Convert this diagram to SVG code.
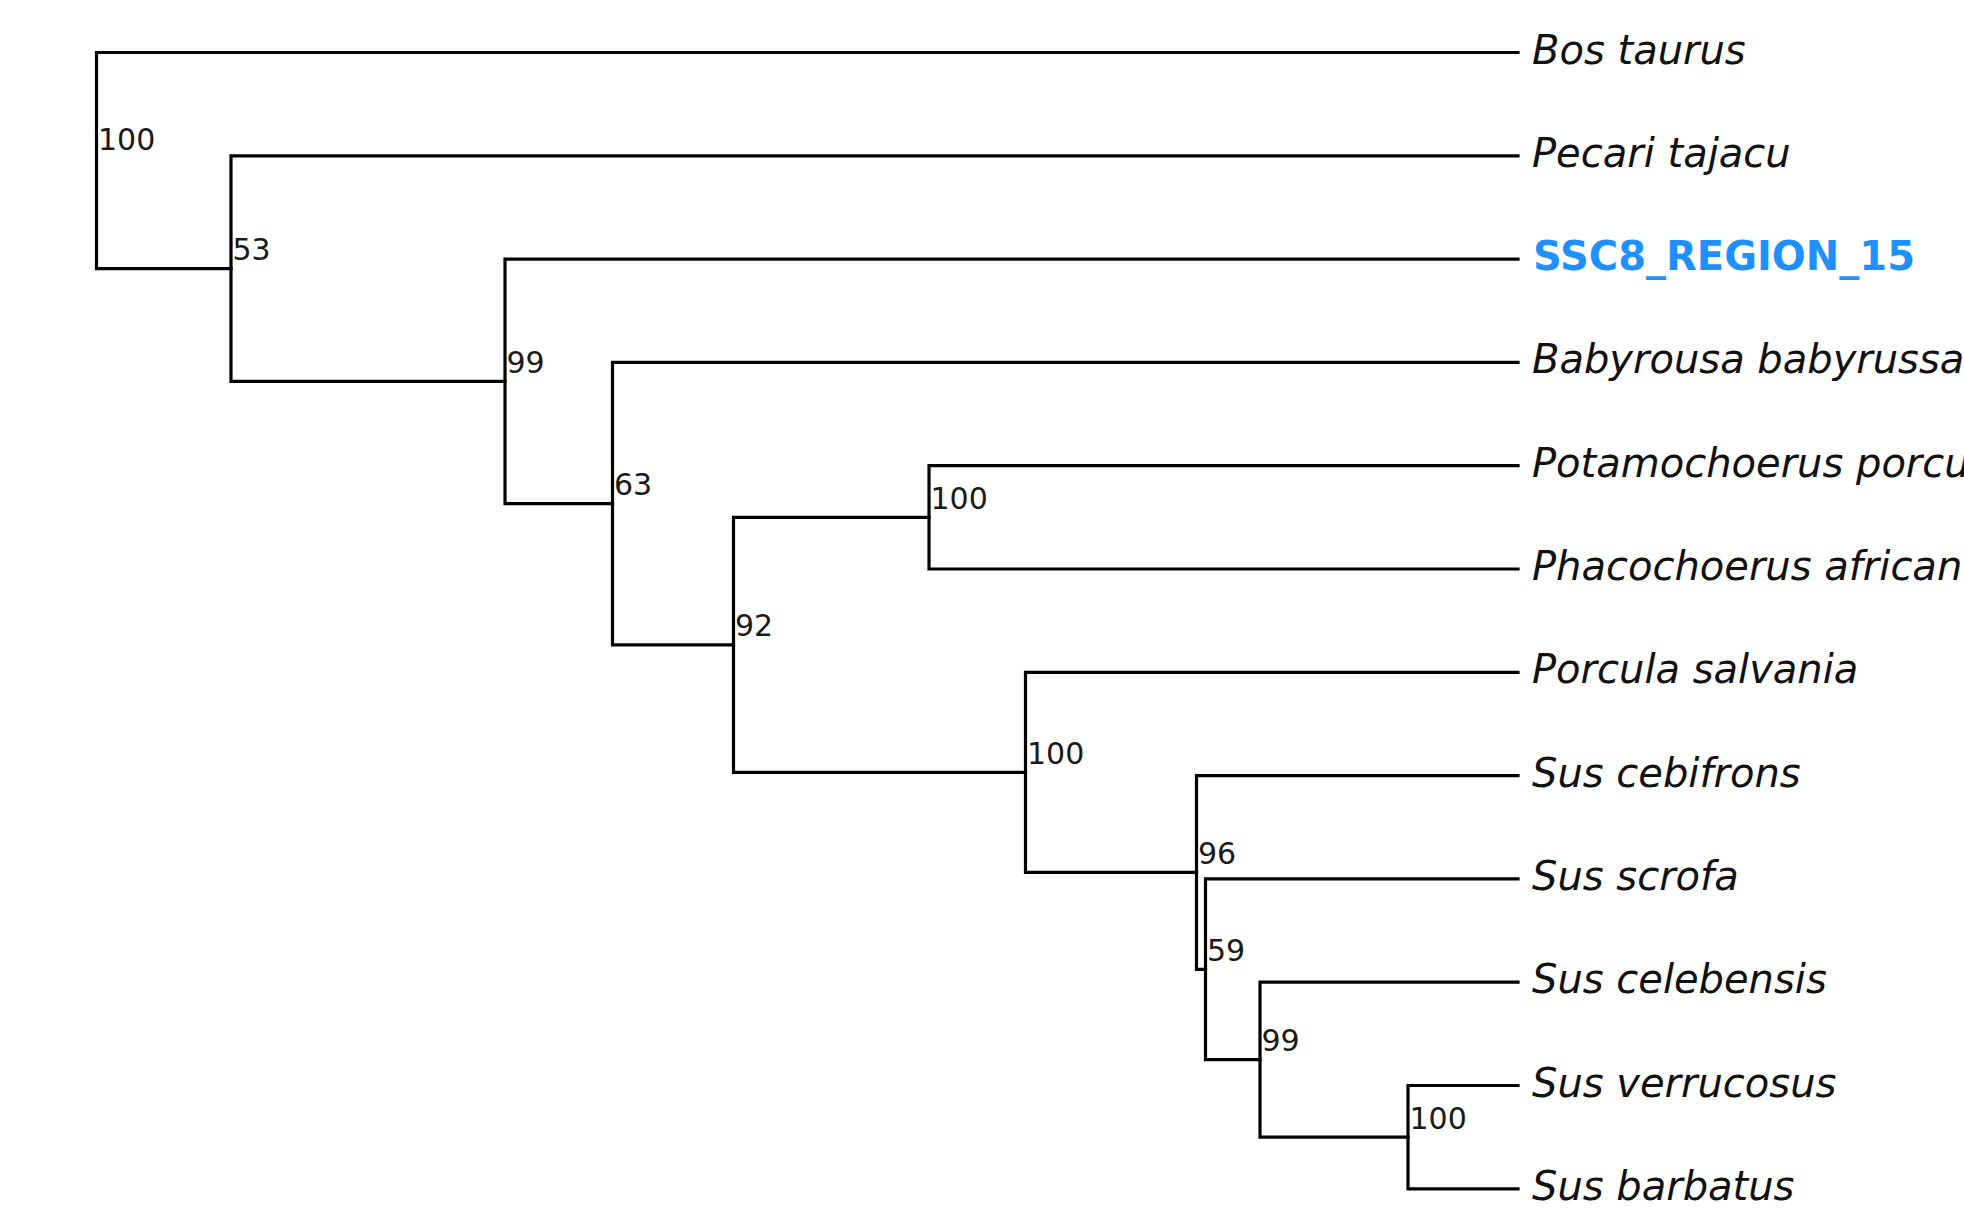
<svg xmlns="http://www.w3.org/2000/svg" width="1964" height="1223" viewBox="0 0 1964 1223">
<style>
.br{stroke:#000;stroke-width:3.2;fill:none;stroke-linecap:square}
.leaf{font-family:"DejaVu Sans","Liberation Sans",sans-serif;font-size:40px;font-style:italic;fill:#111}
.hl{font-family:"DejaVu Sans","Liberation Sans",sans-serif;font-size:40px;font-weight:bold;fill:#1E90FF}
.sup{font-family:"DejaVu Sans","Liberation Sans",sans-serif;font-size:30px;fill:#1a1a1a}
</style>
<rect x="0" y="0" width="1964" height="1223" fill="#fff"/>
<g id="connectors" class="br">
<path d="M96.5,52.5V268.6 M96.5,52.5H1518 M96.5,268.6H231"/>
<path d="M231,155.8V381.4 M231,155.8H1518 M231,381.4H505"/>
<path d="M505,259.1V503.65 M505,259.1H1518 M505,503.65H612.5"/>
<path d="M612.5,362.4V644.9 M612.5,362.4H1518 M612.5,644.9H733.5"/>
<path d="M733.5,517.35V772.4 M733.5,517.35H929 M733.5,772.4H1025.5"/>
<path d="M929,465.7V569 M929,465.7H1518 M929,569H1518"/>
<path d="M1025.5,672.3V872.45 M1025.5,672.3H1518 M1025.5,872.45H1196.5"/>
<path d="M1196.5,775.6V969.3 M1196.5,775.6H1518 M1196.5,969.3H1205.5"/>
<path d="M1205.5,878.9V1059.7 M1205.5,878.9H1518 M1205.5,1059.7H1260"/>
<path d="M1260,982.2V1137.15 M1260,982.2H1518 M1260,1137.15H1408"/>
<path d="M1408,1085.5V1188.8 M1408,1085.5H1518 M1408,1188.8H1518"/>
</g>
<g id="node-root"><text class="sup" x="98" y="150">100</text></g>
<g id="node-53"><text class="sup" x="232.5" y="259.5">53</text></g>
<g id="node-99a"><text class="sup" x="506.5" y="372.5">99</text></g>
<g id="node-63"><text class="sup" x="614" y="494.5">63</text></g>
<g id="node-92"><text class="sup" x="735" y="636">92</text></g>
<g id="node-100pp"><text class="sup" x="930.5" y="508.5">100</text></g>
<g id="node-100c"><text class="sup" x="1027" y="763.5">100</text></g>
<g id="node-96"><text class="sup" x="1198" y="863.5">96</text></g>
<g id="node-59"><text class="sup" x="1207" y="960.5">59</text></g>
<g id="node-99b"><text class="sup" x="1261.5" y="1050.5">99</text></g>
<g id="node-100vb"><text class="sup" x="1409.5" y="1128.5">100</text></g>
<g id="leaf-bos"><text class="leaf" x="1532" y="63.5">Bos taurus</text></g>
<g id="leaf-pecari"><text class="leaf" x="1532" y="166.8">Pecari tajacu</text></g>
<g id="leaf-ssc8"><text class="hl" x="1533" y="270.1">SSC8_REGION_15</text></g>
<g id="leaf-babyrousa"><text class="leaf" x="1532" y="373.4">Babyrousa babyrussa</text></g>
<g id="leaf-potamochoerus"><text class="leaf" x="1532" y="476.7">Potamochoerus porcus</text></g>
<g id="leaf-phacochoerus"><text class="leaf" x="1532" y="580">Phacochoerus africanus</text></g>
<g id="leaf-porcula"><text class="leaf" x="1532" y="683.3">Porcula salvania</text></g>
<g id="leaf-cebifrons"><text class="leaf" x="1532" y="786.6">Sus cebifrons</text></g>
<g id="leaf-scrofa"><text class="leaf" x="1532" y="889.9">Sus scrofa</text></g>
<g id="leaf-celebensis"><text class="leaf" x="1532" y="993.2">Sus celebensis</text></g>
<g id="leaf-verrucosus"><text class="leaf" x="1532" y="1096.5">Sus verrucosus</text></g>
<g id="leaf-barbatus"><text class="leaf" x="1532" y="1199.8">Sus barbatus</text></g>
</svg>
